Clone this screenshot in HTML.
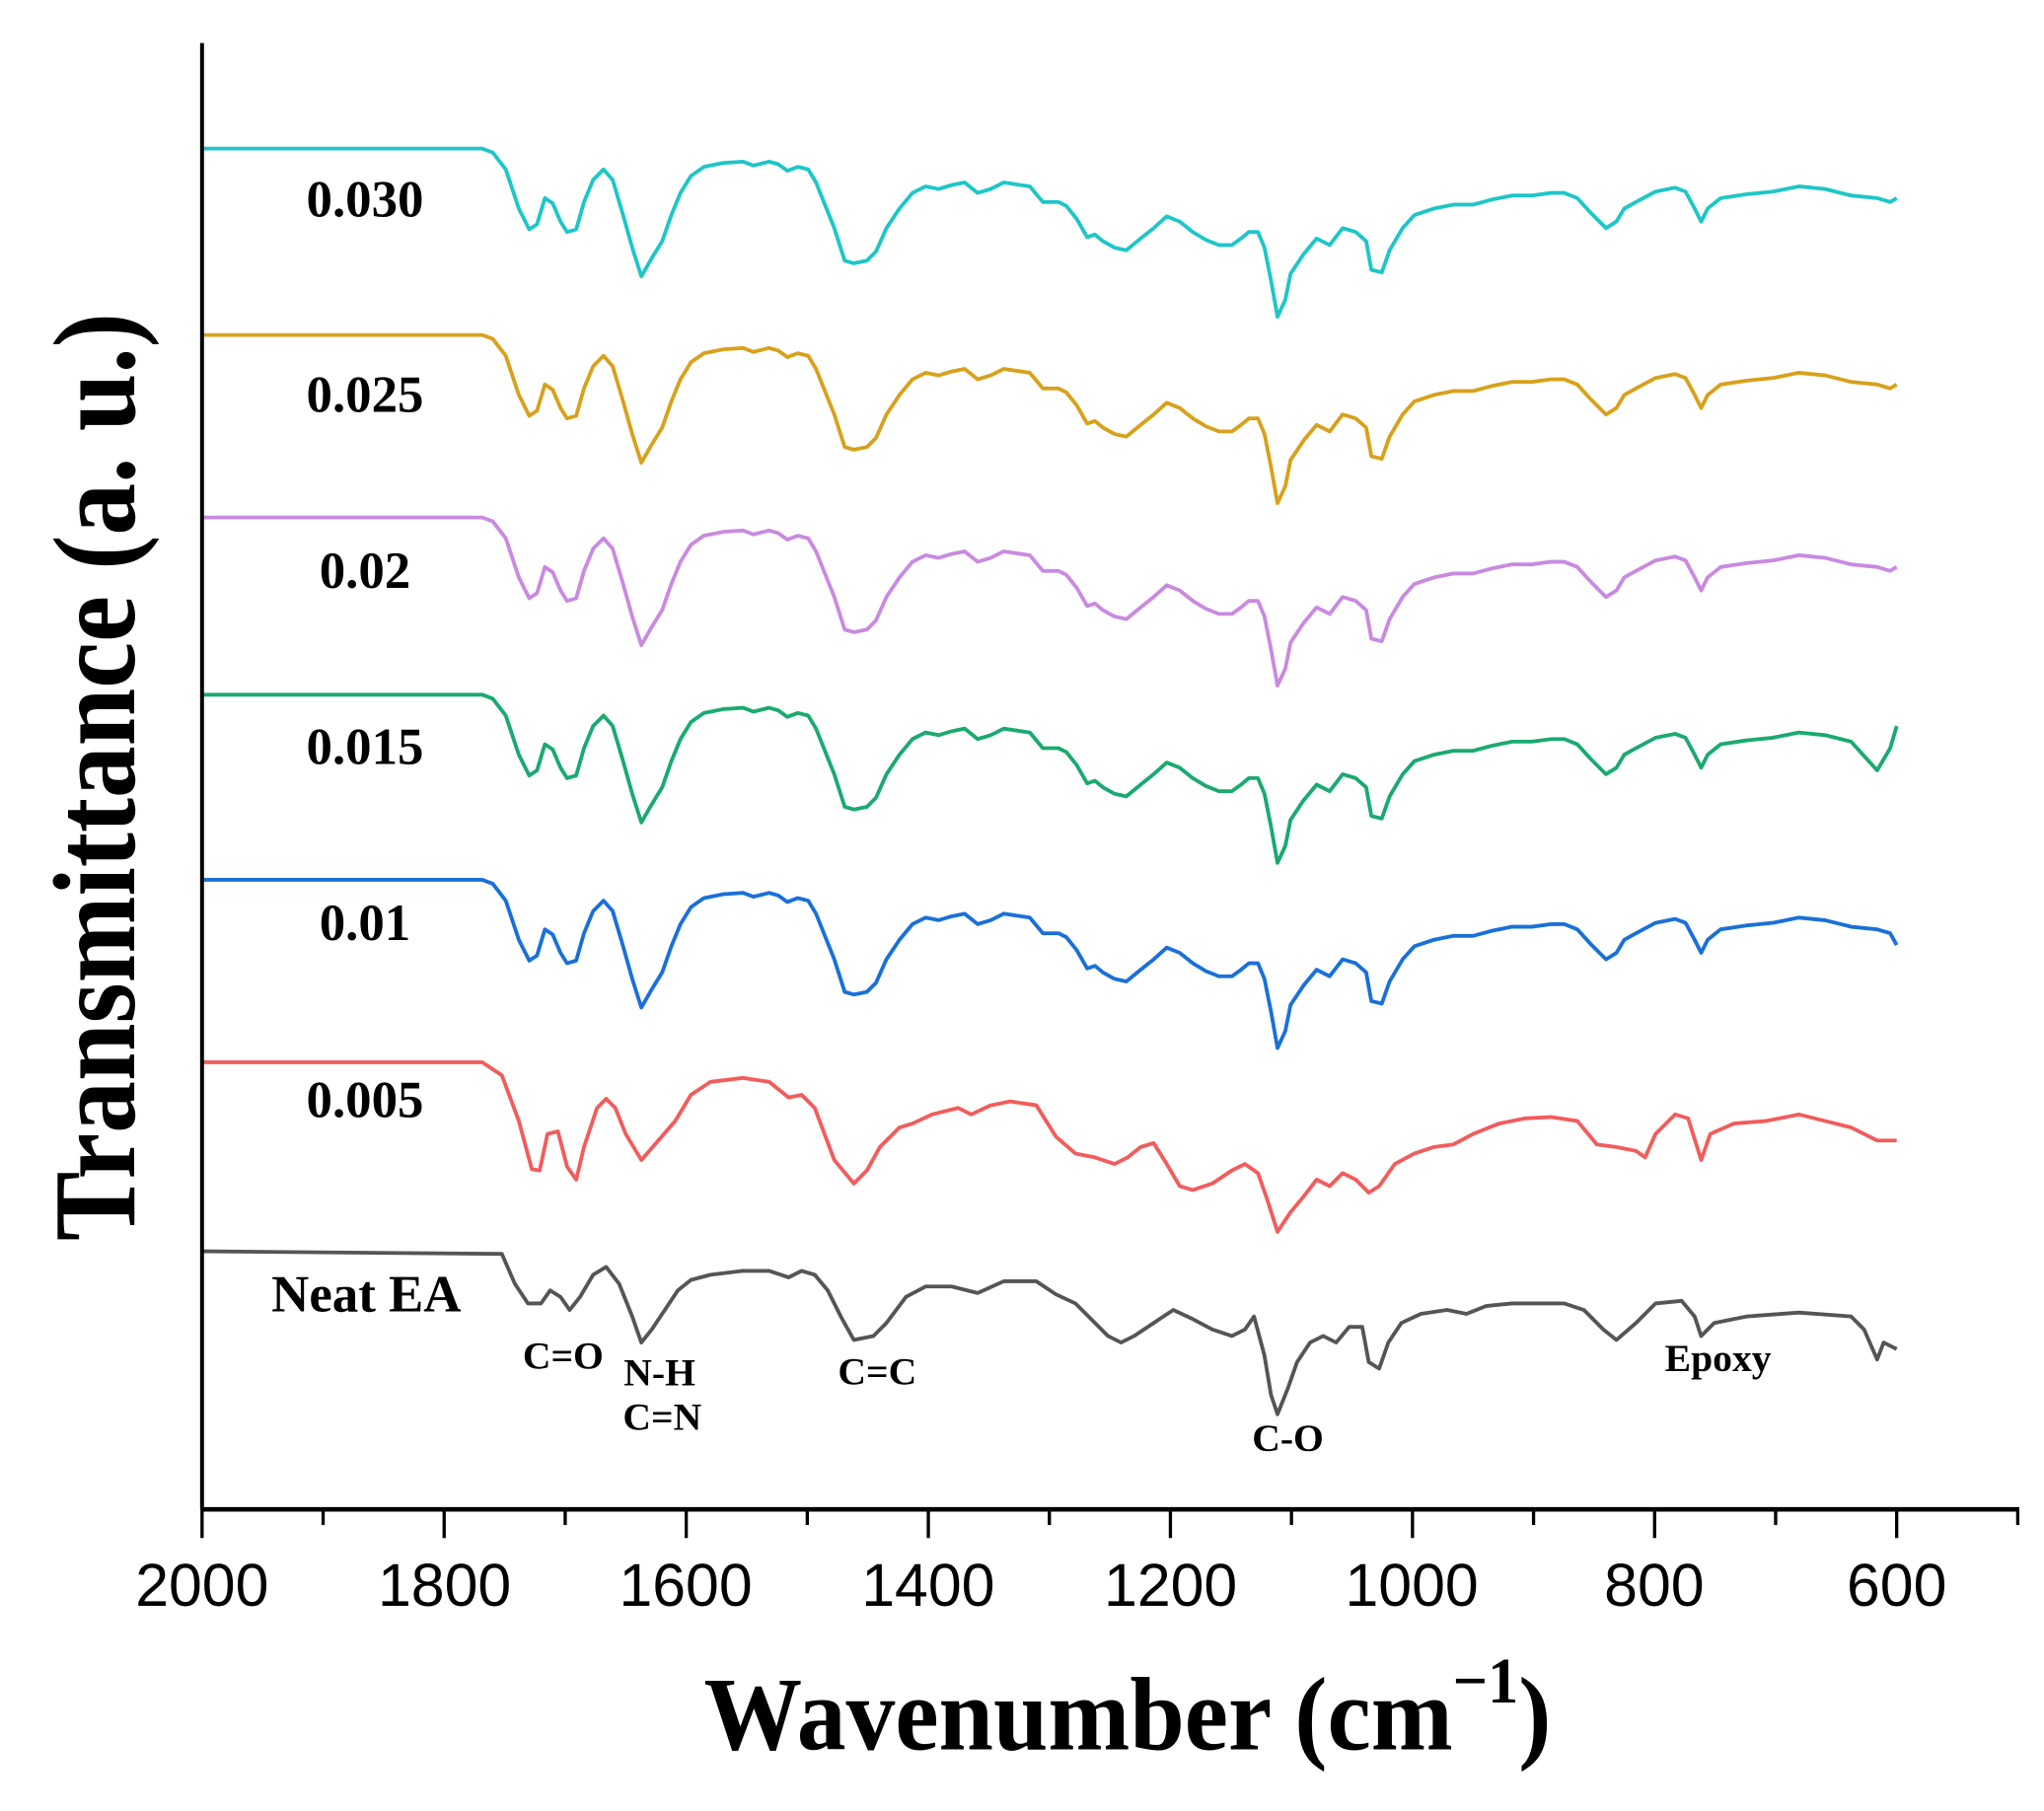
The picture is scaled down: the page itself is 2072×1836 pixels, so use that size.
<!DOCTYPE html>
<html><head><meta charset="utf-8"><style>
html,body{margin:0;padding:0;background:#fff;}
svg{display:block;}
</style></head><body>
<svg id="s" width="2072" height="1836" viewBox="0 0 1568 1389.4" preserveAspectRatio="none" xmlns="http://www.w3.org/2000/svg">
<rect width="1568" height="1389.4" fill="#fff"/>
<g id="curves" fill="none" stroke-width="2.9" stroke-linejoin="round"></g>
<line x1="155" y1="33" x2="155" y2="1158" stroke="#000" stroke-width="3"/>
<line x1="154" y1="1158" x2="1549" y2="1158" stroke="#000" stroke-width="3.5"/>
<g id="ticks" stroke="#000" stroke-width="2.5"></g>
<g font-family="Liberation Sans, Arial, sans-serif" font-size="46" text-anchor="middle" fill="#000">
<text x="155" y="1232">2000</text><text x="341" y="1232">1800</text><text x="526" y="1232">1600</text>
<text x="712" y="1232">1400</text><text x="898" y="1232">1200</text><text x="1083" y="1232">1000</text>
<text x="1269" y="1232">800</text><text x="1455" y="1232">600</text>
</g>
<g font-family="Liberation Serif, Times New Roman, serif" font-weight="bold" fill="#000">
<text x="540" y="1342" font-size="80" textLength="650" lengthAdjust="spacingAndGlyphs">Wavenumber (cm<tspan font-size="50" dy="-36">−1</tspan><tspan dy="36">)</tspan></text>
<text transform="translate(103,952) rotate(-90)" font-size="90" textLength="712" lengthAdjust="spacingAndGlyphs">Transmittance (a. u.)</text>
<g font-size="40" text-anchor="middle">
<text x="280" y="166">0.030</text><text x="280" y="316">0.025</text><text x="280" y="451">0.02</text>
<text x="280" y="586">0.015</text><text x="280" y="721">0.01</text><text x="280" y="857">0.005</text>
<text x="281" y="1006">Neat EA</text>
</g>
<g font-size="30" text-anchor="middle">
<text x="432" y="1050">C=O</text><text x="506" y="1063">N-H</text><text x="508" y="1097">C=N</text>
<text x="673" y="1062">C=C</text><text x="988" y="1113">C-O</text><text x="1318" y="1052">Epoxy</text>
</g>
</g>
</svg>
<script>
var base=[155,114,370,114,378,117,388,130,398,160,406,176,412,172,418,152,424,156,430,170,435,178,442,176,448,155,455,138,463,130,470,138,478,165,485,190,492,212,500,198,508,185,515,165,522,148,530,135,540,128,555,125,570,124,578,127,590,124,597,126,604,131,612,128,620,130,626,140,640,175,648,200,655,202,665,200,672,193,680,175,690,160,700,148,710,143,720,145,730,142,740,140,750,148,760,145,770,140,790,143,800,155,812,155,818,158,826,168,834,182,840,180,846,185,855,190,864,192,875,183,885,175,895,166,905,170,915,178,925,184,935,188,945,188,952,183,958,178,965,178,970,190,975,215,980,243,986,230,990,210,1000,195,1010,183,1020,188,1030,175,1040,178,1048,185,1052,207,1060,209,1066,192,1076,175,1085,165,1100,160,1115,157,1130,157,1145,153,1160,150,1175,150,1190,148,1200,148,1210,152,1220,163,1232,175,1240,170,1246,160,1255,155,1270,147,1285,144,1293,147,1300,160,1305,170,1310,160,1320,152,1340,149,1360,147,1380,143,1400,145,1420,150,1440,152,1450,155,1455,152];
var red=[155,815,370,815,385,825,398,860,408,897,414,898,420,870,428,868,435,895,442,905,448,880,458,850,465,843,472,850,480,870,492,890,505,875,518,860,530,840,545,830,570,827,590,830,605,842,615,840,625,850,640,890,655,908,665,898,675,880,690,865,700,862,715,855,735,850,745,855,760,848,775,845,795,848,810,872,825,885,840,888,855,893,865,888,875,880,885,877,895,893,905,910,915,913,930,908,945,898,955,893,965,900,972,920,980,945,990,930,1000,918,1010,905,1020,910,1030,900,1040,905,1050,915,1058,910,1070,893,1085,885,1100,880,1115,878,1130,870,1150,862,1170,858,1190,857,1210,860,1225,878,1240,880,1255,883,1262,888,1270,870,1285,855,1295,858,1305,890,1312,870,1330,862,1355,860,1380,855,1400,860,1420,865,1440,875,1455,875];
var blk=[155,960,385,962,395,985,405,1000,415,1000,422,990,430,995,437,1005,445,995,455,978,465,972,475,985,485,1010,492,1030,500,1020,510,1005,520,990,530,982,545,978,570,975,590,975,605,980,615,975,625,978,635,990,645,1010,655,1028,670,1025,680,1015,695,995,710,987,730,987,750,992,770,983,795,983,810,993,825,1000,835,1010,850,1025,860,1030,870,1025,885,1015,900,1005,915,1012,930,1020,945,1025,955,1020,962,1010,970,1040,975,1070,980,1085,988,1065,995,1045,1005,1030,1015,1025,1025,1030,1035,1018,1045,1018,1050,1045,1058,1050,1065,1030,1075,1015,1090,1008,1110,1005,1125,1008,1140,1002,1160,1000,1200,1000,1215,1005,1230,1020,1240,1028,1255,1015,1270,1000,1290,998,1300,1010,1305,1025,1315,1015,1340,1010,1380,1007,1420,1010,1430,1020,1440,1043,1445,1030,1455,1035];
function path(a,dy,tail){var d="";for(var i=0;i<a.length;i+=2){var y=a[i+1]+dy;if(tail&&a[i]>=1400){y+=tail(a[i]);}d+=(i?"L":"M")+a[i]+" "+y.toFixed(1);}return d;}
var g=document.getElementById("curves");
function add(d,c){var p=document.createElementNS("http://www.w3.org/2000/svg","path");p.setAttribute("d",d);p.setAttribute("stroke",c);g.appendChild(p);}
add(path(base,0),"#1ec6c8");
add(path(base,143),"#d8a11c");
add(path(base,283),"#c98ae0");
add(path(base,419,function(x){return x==1440?20:(x==1455?-14:0);}),"#1aaa70");
add(path(base,561,function(x){return x==1455?12:0;}),"#1a70d8");
add(path(red,0),"#f25c5c");
add(path(blk,0),"#555555");
var t=document.getElementById("ticks");
for(var w=2000;w>=500;w-=100){var x=155+(2000-w)*0.92857;var l=document.createElementNS("http://www.w3.org/2000/svg","line");l.setAttribute("x1",x);l.setAttribute("x2",x);l.setAttribute("y1",1158);l.setAttribute("y2",(w%200==0)?1180:1170);t.appendChild(l);}
</script>
</body></html>
